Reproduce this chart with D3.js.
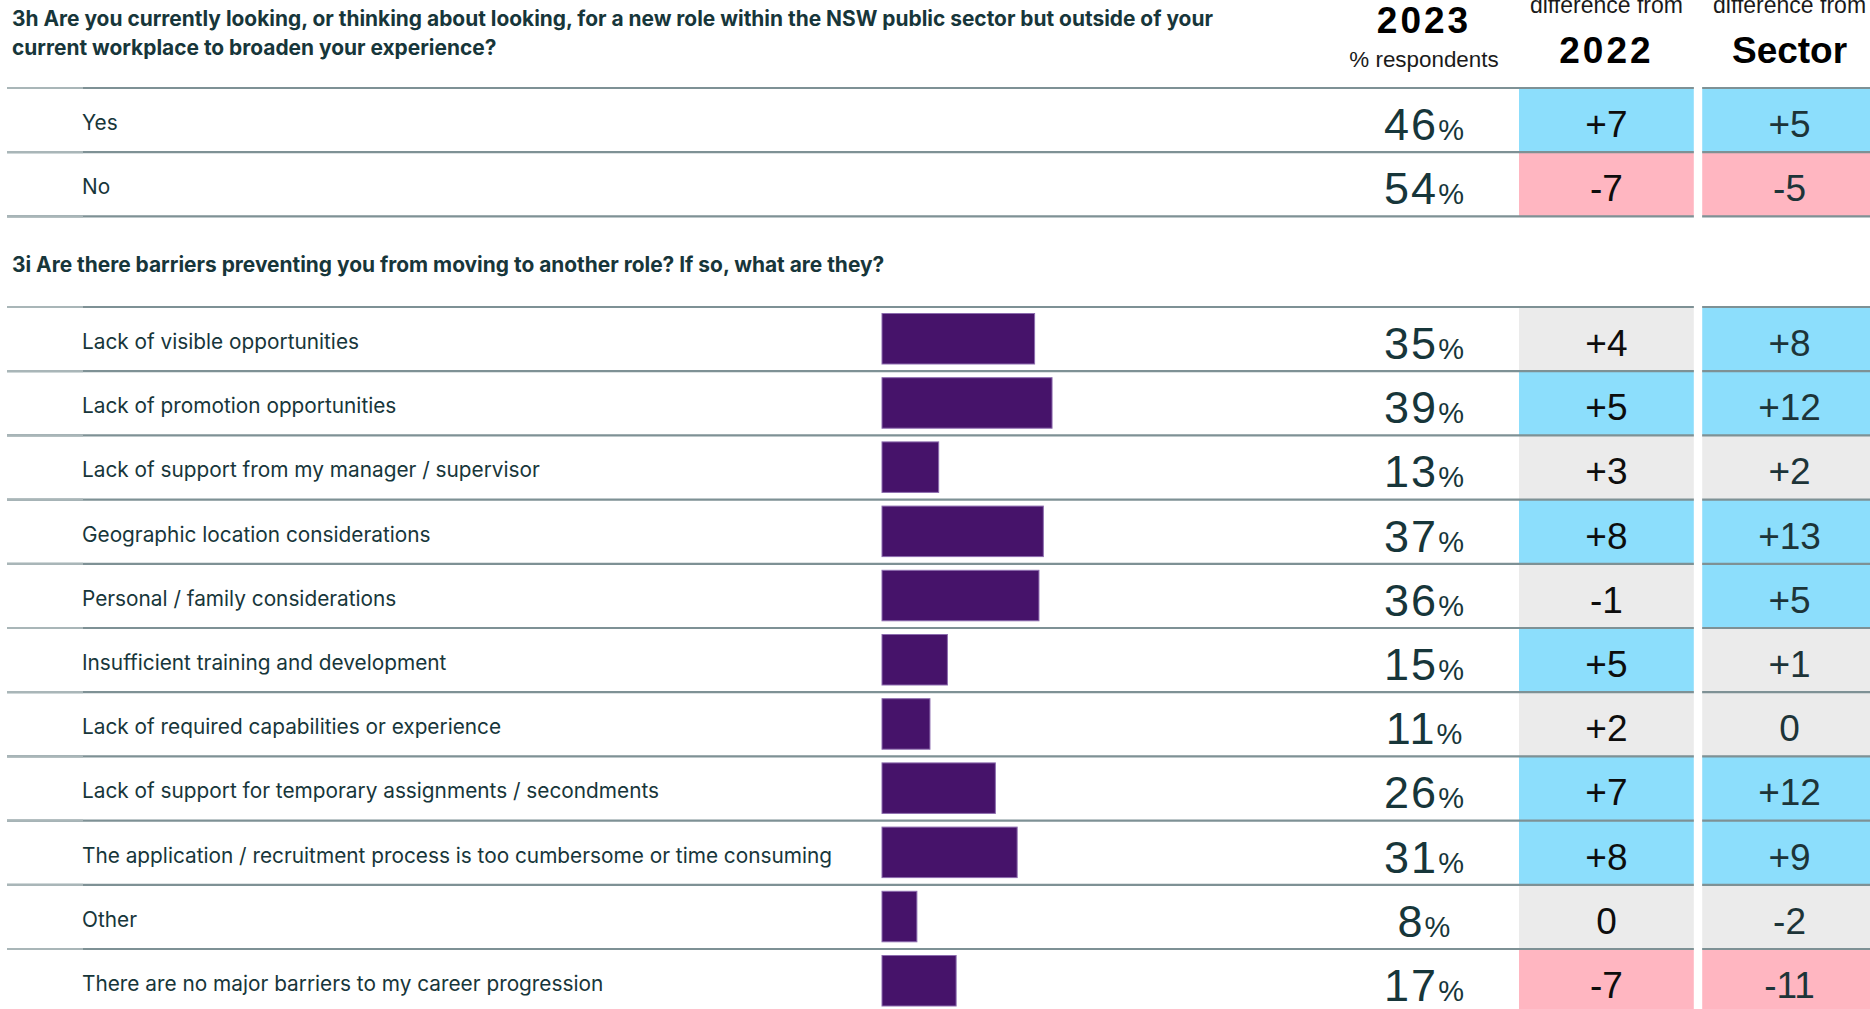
<!DOCTYPE html>
<html>
<head>
<meta charset="utf-8">
<script src="https://cdn.jsdelivr.net/npm/d3@7"></script>
<style>
  body { margin: 0; background: #fff; overflow: hidden; }
  svg { display: block; }
  .q { font-family: Inter, "Noto Sans", sans-serif; font-weight: 700; font-size: 20.9px; fill: #17363a; }
  .lbl { font-family: Inter, "Noto Sans", sans-serif; font-size: 20.8px; fill: #17363a; }
  .num { font-family: "Liberation Sans", Arial, sans-serif; fill: #17363a; }
  .hd { font-family: "Liberation Sans", Arial, sans-serif; fill: #000; }
</style>
</head>
<body>
<svg id="chart"></svg>
<script>
const W = 1870, H = 1009;

// 3h
const q3h = ["3h Are you currently looking, or thinking about looking, for a new role within the NSW public sector but outside of your",
             "current workplace to broaden your experience?"];
const answers3h = ["Yes", "No"];
const pct3h = [46, 54];
const d2022_3h = [7, -7];
const d2022_3hSig = ["up", "down"];
const dSector_3h = [5, -5];
const dSector_3hSig = ["up", "down"];

// 3i
const q3i = "3i Are there barriers preventing you from moving to another role? If so, what are they?";
const barriers = [
  "Lack of visible opportunities",
  "Lack of promotion opportunities",
  "Lack of support from my manager / supervisor",
  "Geographic location considerations",
  "Personal / family considerations",
  "Insufficient training and development",
  "Lack of required capabilities or experience",
  "Lack of support for temporary assignments / secondments",
  "The application / recruitment process is too cumbersome or time consuming",
  "Other",
  "There are no major barriers to my career progression"
];
const pct3i = [35, 39, 13, 37, 36, 15, 11, 26, 31, 8, 17];
const d2022_3i = [4, 5, 3, 8, -1, 5, 2, 7, 8, 0, -7];
const d2022_3iSig = ["none", "up", "none", "up", "none", "up", "none", "up", "up", "none", "down"];
const dSector_3i = [8, 12, 2, 13, 5, 1, 0, 12, 9, -2, -11];
const dSector_3iSig = ["up", "up", "none", "up", "up", "none", "none", "up", "up", "none", "down"];

const diffCols = ["2022", "Sector"];
const sigColor = { up: "#8cdefc", down: "#ffb6c1", none: "#ebebeb" };

const svg = d3.select("#chart").attr("width", W).attr("height", H);

const rowH = 64.2;
const y3h = d3.scaleBand().domain(answers3h).range([88, 88 + rowH * answers3h.length]);
const y3i = d3.scaleBand().domain(barriers).range([307, 307 + rowH * barriers.length]);
const xBar = d3.scaleLinear().domain([0, 100]).range([882, 1318]);
const xDiff = d3.scaleBand().domain(diffCols).range([1519, 1877]).paddingInner(0.045);
const pctX = 1424;

const fmt = v => v > 0 ? "+" + v : String(v);

// header
const hd = svg.append("g");
hd.append("text").attr("class", "hd").attr("x", pctX).attr("y", 33)
  .attr("text-anchor", "middle").style("font-size", "37px").style("font-weight", 700)
  .style("letter-spacing", "3px").text("2023");
hd.append("text").attr("class", "hd").attr("x", pctX).attr("y", 67)
  .attr("text-anchor", "middle").style("font-size", "22.4px").style("fill", "#1a1a1a").text("% respondents");
diffCols.forEach(c => {
  const cx = xDiff(c) + xDiff.bandwidth() / 2;
  hd.append("text").attr("class", "hd").attr("x", cx).attr("y", 13)
    .attr("text-anchor", "middle").style("font-size", "23px").style("fill", "#1a1a1a").text("difference from");
  hd.append("text").attr("class", "hd").attr("x", cx).attr("y", 63)
    .attr("text-anchor", "middle").style("font-size", "37px").style("font-weight", 700)
    .style("letter-spacing", c === "2022" ? "3px" : "0px").text(c);
});

svg.append("g").selectAll("text").data(q3h).enter().append("text")
  .attr("class", "q").attr("x", 12).attr("y", (d, i) => 26 + i * 29).text(d => d);

svg.append("text").attr("class", "q").attr("x", 12).attr("y", 272).text(q3i);

function drawBlock(y, labels, pct, d1, s1, d2, s2, bars) {
  const rows = labels.map((l, i) => ({ label: l, pct: pct[i], d: [d1[i], d2[i]], s: [s1[i], s2[i]] }));
  const g = svg.append("g");
  const row = g.selectAll("g.row").data(rows).enter().append("g").attr("class", "row")
    .attr("transform", d => `translate(0,${y(d.label)})`);

  // diff cells
  row.selectAll("rect.cell").data(d => diffCols.map((c, k) => ({ c, v: d.d[k], s: d.s[k] })))
    .enter().append("rect").attr("class", "cell")
    .attr("x", d => xDiff(d.c)).attr("y", 0)
    .attr("width", xDiff.bandwidth()).attr("height", y.bandwidth())
    .attr("fill", d => sigColor[d.s]);
  row.selectAll("text.dv").data(d => diffCols.map((c, k) => ({ c, v: d.d[k] })))
    .enter().append("text").attr("class", "num dv")
    .attr("x", d => xDiff(d.c) + xDiff.bandwidth() / 2).attr("y", 49)
    .attr("text-anchor", "middle").style("font-size", "37px")
    .style("fill", d => d.c === "2022" ? "#0d0d0d" : "#1d3438")
    .text(d => fmt(d.v));

  // labels
  row.append("text").attr("class", "lbl").attr("x", 82).attr("y", 42).text(d => d.label);

  // bars
  if (bars) {
    row.append("rect").attr("x", xBar(0)).attr("y", 6.5)
      .attr("width", d => xBar(d.pct) - xBar(0)).attr("height", 50.5)
      .attr("fill", "#46136a").attr("stroke", "#8c6cae").attr("stroke-width", 1);
  }

  // pct value
  const t = row.append("text").attr("class", "num").attr("x", pctX).attr("y", 52).attr("text-anchor", "middle");
  t.append("tspan").style("font-size", "45px").style("letter-spacing", "2px").text(d => d.pct);
  t.append("tspan").style("font-size", "29px").text("%");

  // separator lines
  const edges = [y.range()[0]].concat(labels.map(l => y(l) + y.bandwidth()));
  g.selectAll("line.sep").data(edges).enter().append("line").attr("class", "sep")
    .attr("x1", 7).attr("x2", W).attr("y1", d => d).attr("y2", d => d)
    .attr("stroke", "#7e9195").attr("stroke-width", 2.2);
  g.selectAll("line.light").data(edges).enter().append("line")
    .attr("x1", 7).attr("x2", 83).attr("y1", d => d).attr("y2", d => d)
    .attr("stroke", "#a9b6b8").attr("stroke-width", 2.2);
}

drawBlock(y3h, answers3h, pct3h, d2022_3h, d2022_3hSig, dSector_3h, dSector_3hSig, false);
drawBlock(y3i, barriers, pct3i, d2022_3i, d2022_3iSig, dSector_3i, dSector_3iSig, true);

// white gutter between the two difference columns
svg.append("rect").attr("x", xDiff("2022") + xDiff.bandwidth()).attr("y", 80)
  .attr("width", xDiff("Sector") - xDiff("2022") - xDiff.bandwidth()).attr("height", H)
  .attr("fill", "#fff");
</script>
</body>
</html>
